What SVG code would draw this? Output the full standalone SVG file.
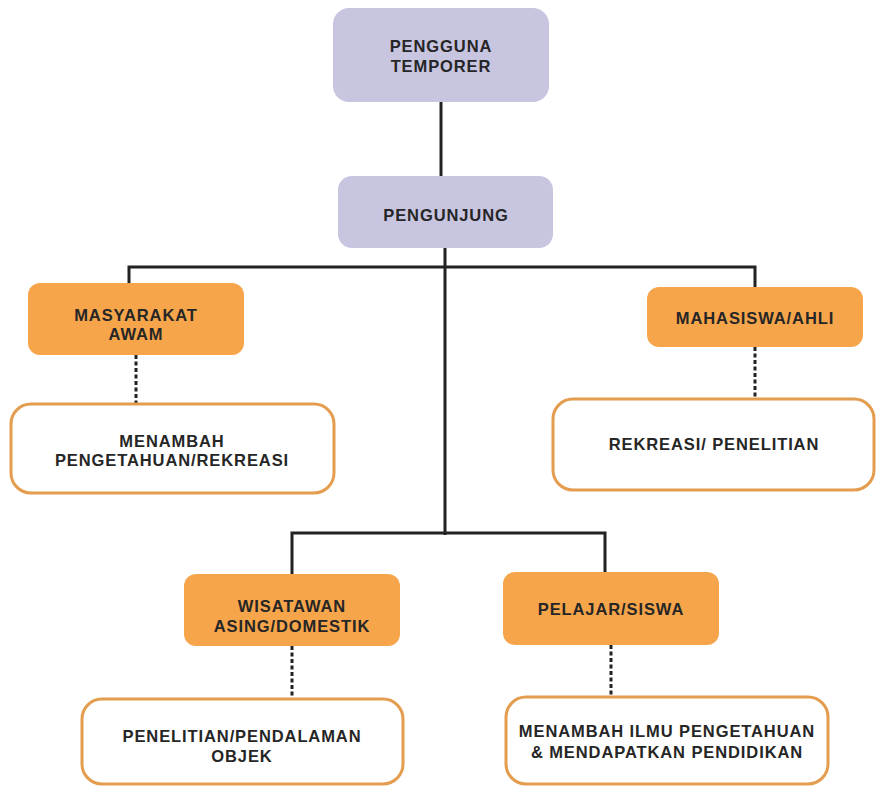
<svg xmlns="http://www.w3.org/2000/svg" width="893" height="787" viewBox="0 0 893 787">
<style>
.p{fill:#c8c5e1}
.o{fill:#f6a54b}
.w{fill:#ffffff;stroke:#e49c4e;stroke-width:3}
.t{font-family:"Liberation Sans",Arial,sans-serif;font-weight:bold;font-size:16.5px;fill:#262626;text-anchor:middle;letter-spacing:0.9px}
.c{fill:none;stroke:#222;stroke-width:3}
.d{fill:none;stroke:#222;stroke-width:3;stroke-dasharray:4 2.5}
</style>
<rect width="893" height="787" fill="#ffffff"/>
<g id="connectors">
<line class="c" x1="441" y1="101" x2="441" y2="178"/>
<line class="c" x1="445" y1="246" x2="445" y2="535"/>
<polyline class="c" points="129,285 129,267 755,267 755,289"/>
<polyline class="c" points="292,576 292,533 605,533 605,574"/>
<line class="d" x1="136" y1="355" x2="136" y2="405"/>
<line class="d" x1="755" y1="347" x2="755" y2="399"/>
<line class="d" x1="292" y1="646" x2="292" y2="700"/>
<line class="d" x1="611" y1="645" x2="611" y2="697"/>
</g>
<g id="pengguna-temporer">
<rect class="p" x="333" y="8" width="216" height="94" rx="16"/>
<text class="t" x="441" y="52">PENGGUNA</text>
<text class="t" x="441" y="72">TEMPORER</text>
</g>
<g id="pengunjung">
<rect class="p" x="338" y="176" width="215" height="72" rx="14"/>
<text class="t" x="446" y="221">PENGUNJUNG</text>
</g>
<g id="masyarakat-awam">
<rect class="o" x="28" y="283" width="216" height="72" rx="12"/>
<text class="t" x="136" y="321">MASYARAKAT</text>
<text class="t" x="136" y="340">AWAM</text>
</g>
<g id="menambah-pengetahuan">
<rect class="w" x="11" y="404" width="323" height="89" rx="20"/>
<text class="t" x="172" y="447">MENAMBAH</text>
<text class="t" x="172" y="466">PENGETAHUAN/REKREASI</text>
</g>
<g id="mahasiswa-ahli">
<rect class="o" x="647" y="287" width="216" height="60" rx="12"/>
<text class="t" x="755" y="324">MAHASISWA/AHLI</text>
</g>
<g id="rekreasi-penelitian">
<rect class="w" x="553" y="399" width="321" height="91" rx="20"/>
<text class="t" x="714" y="450">REKREASI/ PENELITIAN</text>
</g>
<g id="wisatawan">
<rect class="o" x="184" y="574" width="216" height="72" rx="12"/>
<text class="t" x="292" y="612">WISATAWAN</text>
<text class="t" x="292" y="632">ASING/DOMESTIK</text>
</g>
<g id="penelitian-pendalaman">
<rect class="w" x="82" y="699" width="321" height="85" rx="20"/>
<text class="t" x="242" y="742">PENELITIAN/PENDALAMAN</text>
<text class="t" x="242" y="762">OBJEK</text>
</g>
<g id="pelajar-siswa">
<rect class="o" x="503" y="572" width="216" height="73" rx="12"/>
<text class="t" x="611" y="615">PELAJAR/SISWA</text>
</g>
<g id="menambah-ilmu">
<rect class="w" x="506" y="697" width="322" height="87" rx="20"/>
<text class="t" x="667" y="737">MENAMBAH ILMU PENGETAHUAN</text>
<text class="t" x="667" y="758">&amp; MENDAPATKAN PENDIDIKAN</text>
</g>
</svg>
